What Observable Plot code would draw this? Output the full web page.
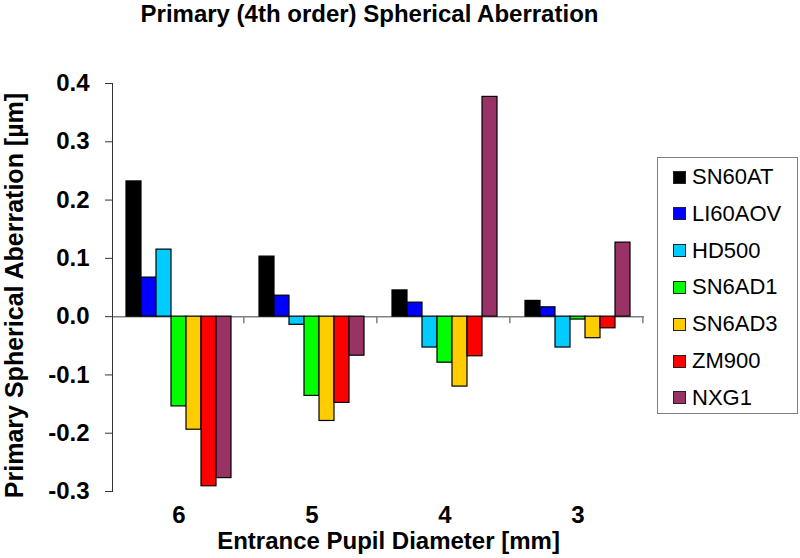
<!DOCTYPE html>
<html>
<head>
<meta charset="utf-8">
<script src="https://cdn.jsdelivr.net/npm/d3@7"></script>
<script src="https://cdn.jsdelivr.net/npm/@observablehq/plot@0.6"></script>
<style>
  body { margin: 0; background: #fff; }
  #wrap { position: relative; width: 800px; height: 558px; font-family: "Liberation Sans", Arial, sans-serif; }
  #title { position: absolute; left: 0; top: 0; width: 739px; text-align: center; font-weight: bold; font-size: 24px; line-height: 28px; color: #000; }
  #chart { position: absolute; left: 0; top: 28px; }
  #legend { position: absolute; left: 657px; top: 157px; width: 141px; height: 257px; border: 1px solid #808080; background: #fff; box-sizing: border-box; }
  .item { position: absolute; left: 15px; height: 26px; display: flex; align-items: center; font-size: 22px; color: #000; }
  .sw { width: 11px; height: 11px; border: 1px solid #222; margin-right: 6px; flex: none; }
</style>
</head>
<body>
<div id="wrap">
  <div id="title">Primary (4th order) Spherical Aberration</div>
  <div id="chart"></div>
  <div id="legend"></div>
</div>
<script>
// Categories (entrance pupil diameter, mm)
const diameters = ["6", "5", "4", "3"];
// Series (lens models)
const lenses = ["SN60AT", "LI60AOV", "HD500", "SN6AD1", "SN6AD3", "ZM900", "NXG1"];
const colors = ["#000000", "#0000FF", "#00CCFF", "#00FF00", "#FFCC00", "#FF0000", "#993366"];
// Values (µm) for diameters 6, 5, 4, 3
const sn60at  = [0.232, 0.103, 0.045, 0.027];
const li60aov = [0.067, 0.036, 0.024, 0.016];
const hd500   = [0.115, -0.014, -0.053, -0.053];
const sn6ad1  = [-0.154, -0.136, -0.079, -0.005];
const sn6ad3  = [-0.194, -0.179, -0.120, -0.037];
const zm900   = [-0.291, -0.148, -0.068, -0.020];
const nxg1    = [-0.277, -0.067, 0.377, 0.127];
const yTicks = [-0.3, -0.2, -0.1, 0, 0.1, 0.2, 0.3, 0.4];
const yTitle = "Primary Spherical Aberration [µm]";
const xTitle = "Entrance Pupil Diameter [mm]";

const series = [sn60at, li60aov, hd500, sn6ad1, sn6ad3, zm900, nxg1];
const rows = lenses.flatMap((lens, i) => diameters.map((d, j) => ({d, lens, v: series[i][j]})));

// layout
const W = 800, H = 530, ML = 110, MR = 155, MT = 55, MB = 67;
const groupInset = 12;
const facetW = (W - ML - MR) / diameters.length;
const barW = (facetW - 2 * groupInset) / lenses.length;

const chart = Plot.plot({
  width: W,
  height: H,
  marginLeft: ML,
  marginRight: MR,
  marginTop: MT,
  marginBottom: MB,
  style: {fontFamily: "'Liberation Sans', Arial, sans-serif", fontSize: "24px", fontWeight: "bold", color: "#000", background: "#fff"},
  fx: {domain: diameters, padding: 0, label: null},
  x: {domain: lenses, padding: 0, insetLeft: groupInset, insetRight: groupInset, axis: null},
  y: {domain: [-0.3, 0.4]},
  color: {domain: lenses, range: colors},
  marks: [
    Plot.ruleY([0], {stroke: "#808080", strokeWidth: 1.5}),
    Plot.ruleX([lenses[lenses.length - 1]], {x: d => d, y1: 0, y2: 0, insetBottom: -7, dx: barW / 2 + groupInset, stroke: "#808080", strokeWidth: 1.5}),
    Plot.barY(rows, {fx: "d", x: "lens", y: "v", fill: "lens", stroke: "#000", strokeWidth: 1.2}),
    Plot.frame({anchor: "left", facetAnchor: "left", stroke: "#333"}),
    Plot.axisY({ticks: yTicks, tickSize: 7, tickPadding: 16, tickFormat: d => d.toFixed(1), stroke: "#333", label: null}),
    Plot.text([yTitle], {frameAnchor: "left", facetAnchor: "left", textAnchor: "middle", lineAnchor: "middle", rotate: -90, dx: -98, dy: 8, fontSize: 25, fontWeight: "bold", fill: "#000"}),
    Plot.axisFx({anchor: "bottom", tickSize: 0, tickPadding: 14, label: null}),
    Plot.text([xTitle], {frameAnchor: "bottom", facet: "super", textAnchor: "middle", lineAnchor: "middle", dx: 10, dy: 50, fontSize: 24, fontWeight: "bold", fill: "#000"})
  ]
});
document.getElementById("chart").appendChild(chart);

// legend
const legend = document.getElementById("legend");
lenses.forEach((lens, i) => {
  const it = document.createElement("div");
  it.className = "item";
  it.style.top = (6 + i * 36.8) + "px";
  const sw = document.createElement("span");
  sw.className = "sw";
  sw.style.background = colors[i];
  const tx = document.createElement("span");
  tx.textContent = lens;
  it.appendChild(sw);
  it.appendChild(tx);
  legend.appendChild(it);
});
</script>
</body>
</html>
